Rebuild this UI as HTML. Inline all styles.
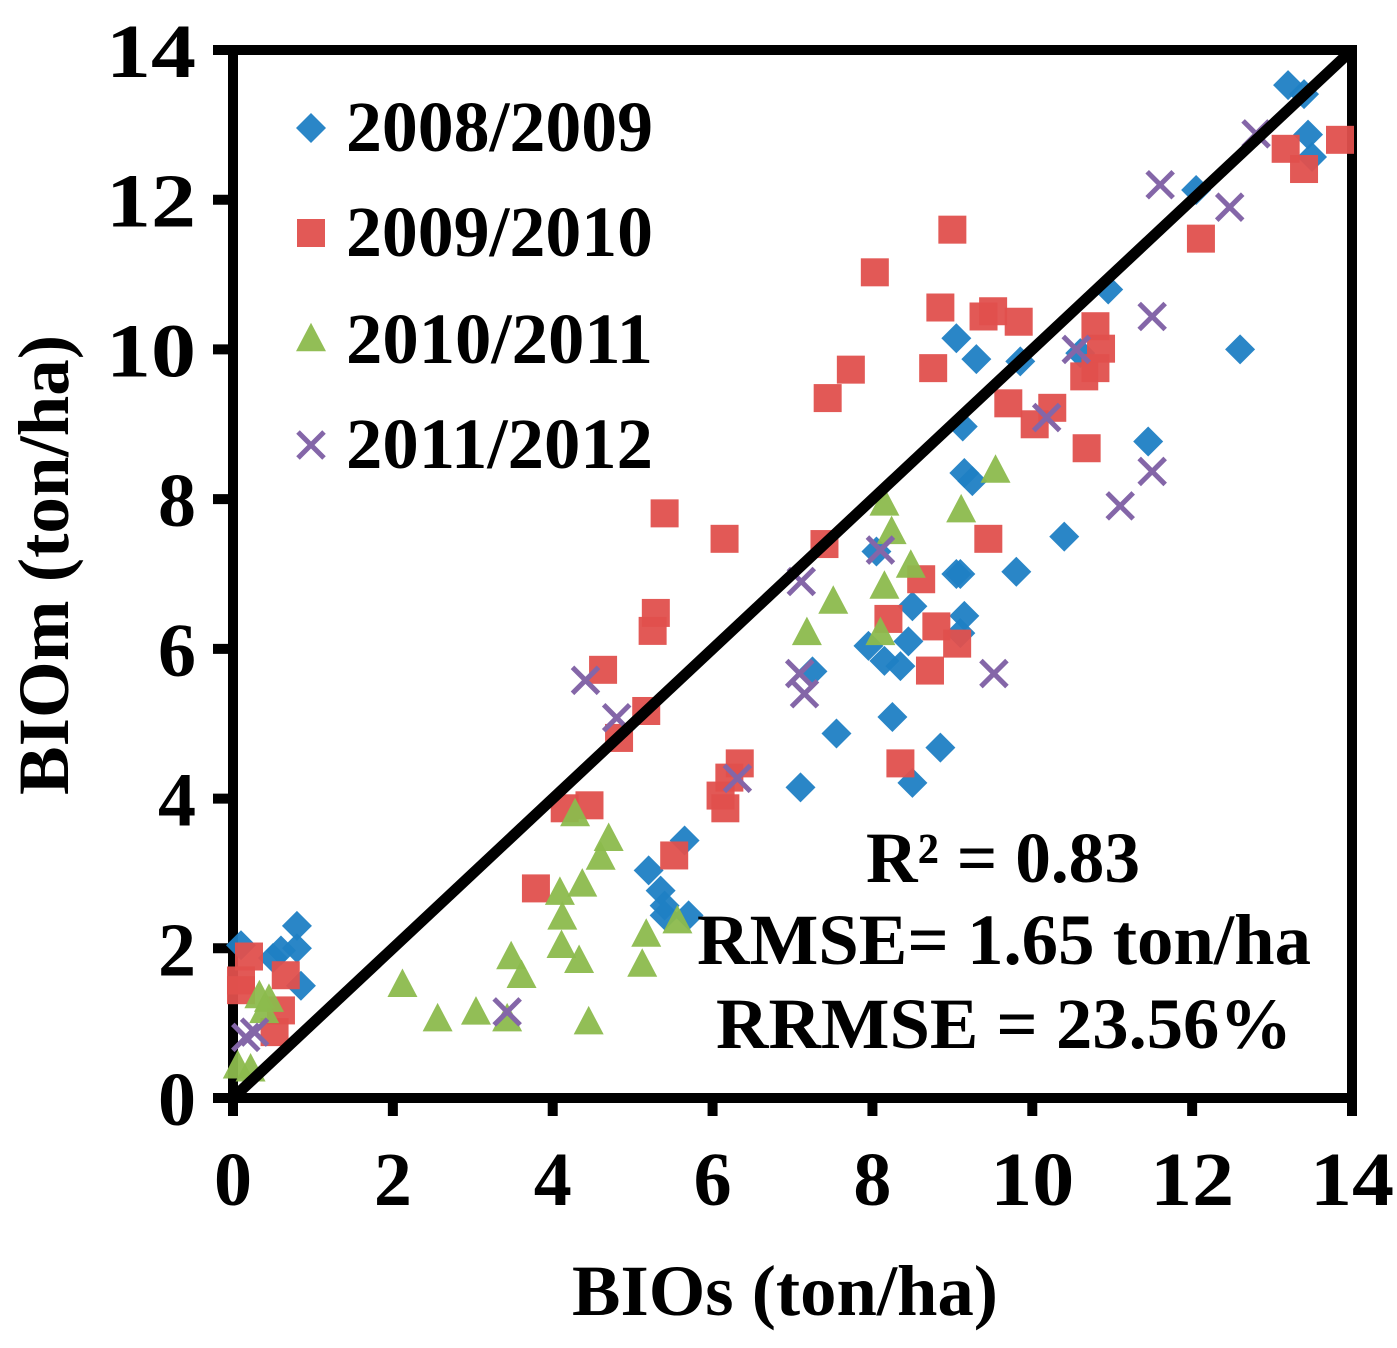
<!DOCTYPE html>
<html><head><meta charset="utf-8"><style>
html,body{margin:0;padding:0;background:#fff}
svg{display:block}
text{font-family:"Liberation Serif",serif;font-weight:bold;fill:#000}
</style></head><body>
<svg id="chart" width="1397" height="1348" viewBox="0 0 1397 1348" xmlns="http://www.w3.org/2000/svg">
<g id="axes"></g>
<g id="marks"></g>
<g id="legend"></g>
<text x="785" y="1315" font-size="72" text-anchor="middle" textLength="426" lengthAdjust="spacingAndGlyphs">BIOs (ton/ha)</text>
<text x="0" y="0" font-size="72" text-anchor="middle" textLength="460" lengthAdjust="spacingAndGlyphs" transform="translate(68,565) rotate(-90)">BIOm (ton/ha)</text>
<text x="1003" y="882" font-size="72" text-anchor="middle" textLength="274" lengthAdjust="spacingAndGlyphs">R² = 0.83</text>
<text x="1004" y="964" font-size="72" text-anchor="middle" textLength="614" lengthAdjust="spacingAndGlyphs">RMSE= 1.65 ton/ha</text>
<text x="1004" y="1048" font-size="72" text-anchor="middle" textLength="576" lengthAdjust="spacingAndGlyphs">RRMSE = 23.56%</text>
</svg>
<script>
const xTicks = [0,2,4,6,8,10,12,14];
const yTicks = [0,2,4,6,8,10,12,14];
const seriesNames = ["2008/2009","2009/2010","2010/2011","2011/2012"];
const s1x = [0.1,0.5,0.8,0.8,0.85,0.6,5.2,5.35,5.4,5.4,5.7,5.65,7.55,7.1,7.25,7.95,8.15,8.35,8.25,8.5,8.85,8.45,8.5,8.05,9.05,9.1,9.15,9.1,9.15,9.25,9.13,9.05,9.3,9.85,9.8,10.4,10.95,11.45,12.05,12.6,13.2,13.4,13.45,13.5,10.6];
const s1y = [2.04,1.87,2.3,2.0,1.5,1.97,3.04,2.77,2.57,2.44,2.44,3.44,4.87,4.15,5.7,6.04,5.84,5.77,5.09,4.21,4.68,6.1,6.57,7.3,7.0,7.0,6.44,6.21,8.35,8.24,8.97,10.15,9.87,9.84,7.03,7.5,10.8,8.77,12.13,10.0,13.53,13.41,12.87,12.57,9.95];
const s2x = [0.2,0.1,0.66,0.6,0.52,0.1,3.79,4.15,4.46,5.52,5.4,6.15,7.4,5.29,5.25,4.63,5.17,4.83,6.34,6.21,6.1,6.16,8.61,8.2,8.8,9.06,8.72,9.45,8.35,9.0,8.03,8.85,9.39,9.51,9.83,12.11,7.73,7.44,8.76,10.79,10.86,10.79,10.65,9.7,10.25,10.03,10.68,13.17,13.4,13.85];
const s2y = [1.89,1.57,1.64,1.17,0.88,1.44,2.8,3.87,3.91,3.24,7.81,7.47,7.4,6.48,6.24,5.72,5.17,4.81,4.47,4.28,4.04,3.87,6.93,6.4,6.3,6.07,5.71,7.47,4.47,11.6,11.03,10.56,10.44,10.51,10.37,11.48,9.73,9.35,9.75,10.31,10.01,9.75,9.64,9.28,9.22,9.0,8.68,12.68,12.41,12.8];
const s3x = [2.12,2.56,3.04,3.43,3.48,3.61,4.45,4.09,4.12,4.11,4.33,4.37,5.17,5.12,5.56,0.33,0.45,0.39,0.06,0.22,4.28,4.6,4.7,8.15,9.11,8.24,8.48,8.15,7.51,7.18,8.1,9.54];
const s3y = [1.5,1.04,1.13,1.04,1.87,1.62,1.0,2.73,2.4,2.02,1.82,2.84,2.17,1.77,2.35,1.35,1.3,1.15,0.41,0.37,3.78,3.2,3.45,7.93,7.84,7.55,7.1,6.82,6.62,6.2,6.2,8.37];
const s4x = [0.16,0.27,3.43,4.41,4.8,6.31,7.11,7.09,7.15,8.1,9.52,12.47,11.5,10.55,10.18,11.5,11.1,11.6,12.8];
const s4y = [0.81,0.88,1.15,5.58,5.08,4.27,6.9,5.67,5.4,7.32,5.67,11.9,10.44,10.0,9.09,8.37,7.91,12.2,12.88];

const NS="http://www.w3.org/2000/svg";
const X0=233,X1=1352,Y0=1098,Y1=50;
function sx(v){return X0+(v-0)/(14-0)*(X1-X0);}
function sy(v){return Y0-(v-0)/(14-0)*(Y0-Y1);}
function mk(tag,attrs,parent){const e=document.createElementNS(NS,tag);for(const k in attrs)e.setAttribute(k,attrs[k]);parent.appendChild(e);return e;}
const axes=document.getElementById('axes'),marks=document.getElementById('marks'),legend=document.getElementById('legend');
const BLUE="#1f80c4",RED="#e0504d",GREEN="#8cbb4d",PURPLE="#8466a8";

let fr=mk('rect',{x:X0,y:Y1,width:X1-X0,height:Y0-Y1,fill:'none',stroke:'#000','stroke-width':10},axes);


xTicks.forEach(t=>{
  let l=mk('line',{x1:sx(t),x2:sx(t),y1:Y0,y2:Y0+18,stroke:'#000','stroke-width':10},axes);
  
  
  const a={x:sx(t),y:1205,'font-size':76,'text-anchor':'middle'};
  if(String(t).length>1){a.textLength=84;a.lengthAdjust='spacingAndGlyphs';}
  let tx=mk('text',a,axes);
  tx.textContent=t;
  
  
});
yTicks.forEach(t=>{
  let l=mk('line',{x1:X0-20,x2:X0,y1:sy(t),y2:sy(t),stroke:'#000','stroke-width':10},axes);
  
  
  const a={x:196,y:sy(t)+27,'font-size':76,'text-anchor':'end'};
  if(String(t).length>1){a.textLength=90;a.lengthAdjust='spacingAndGlyphs';}
  let tx=mk('text',a,axes);
  tx.textContent=t;
  
  
});

function diamond(x,y,s,p){return mk('polygon',{points:`${x},${y-s} ${x+s},${y} ${x},${y+s} ${x-s},${y}`,fill:BLUE,opacity:0.95},p);}
function square(x,y,s,p){return mk('rect',{x:x-s,y:y-s,width:2*s,height:2*s,fill:RED,opacity:0.95},p);}
function tri(x,y,s,p){return mk('polygon',{points:`${x},${y-s*1.15} ${x+s},${y+s*0.75} ${x-s},${y+s*0.75}`,fill:GREEN,opacity:0.95},p);}
function cross(x,y,s,p){const g=mk('g',{stroke:PURPLE,'stroke-width':5},p);mk('line',{x1:x-s,y1:y-s,x2:x+s,y2:y+s},g);mk('line',{x1:x-s,y1:y+s,x2:x+s,y2:y-s},g);return g;}

s1x.forEach((v,i)=>{const e=diamond(sx(v),sy(s1y[i]),15,marks);
  
  });
s2x.forEach((v,i)=>{const e=square(sx(v),sy(s2y[i]),14,marks);
  
  });
s3x.forEach((v,i)=>{const e=tri(sx(v),sy(s3y[i]),15,marks);
  
  });
s4x.forEach((v,i)=>{const e=cross(sx(v),sy(s4y[i]),13,marks);
  
  });

let ol=mk('line',{x1:sx(0),y1:sy(0),x2:sx(14),y2:sy(14),stroke:'#000','stroke-width':11},marks);



const ly=[128,233,340,445];
const fns=[diamond,square,tri,cross];
const sizes=[15,14,15,13];
seriesNames.forEach((n,i)=>{
  const m=fns[i](311,ly[i],sizes[i],legend);
  
  
  const t=mk('text',{x:346,y:ly[i]+23,'font-size':72,textLength:307,lengthAdjust:'spacingAndGlyphs'},legend);
  t.textContent=n;
  
  
});
</script>
</body></html>
